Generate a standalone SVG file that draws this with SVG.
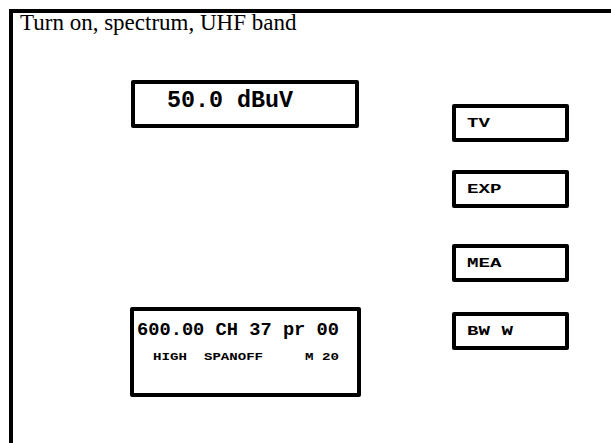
<svg xmlns="http://www.w3.org/2000/svg" width="611" height="443" viewBox="0 0 611 443">
<style>
.box{fill:#fff;stroke:#000;stroke-width:4;stroke-linejoin:round}
.mono{font-family:"Liberation Mono","Courier New",monospace;font-weight:bold;fill:#000}
.btn{font-size:13px}
</style>
<rect width="611" height="443" fill="#fff"/>
<g id="frame">
<rect x="11" y="11" width="700" height="500" fill="none" stroke="#000" stroke-width="4"/>
<text x="20" y="30" font-family="'Liberation Serif','Times New Roman',serif" font-size="23">Turn on, spectrum, UHF band</text>
</g>
<g id="level">
<rect class="box" x="133" y="82" width="224" height="44"/>
<text class="mono" x="167" y="107" font-size="23" textLength="126" lengthAdjust="spacingAndGlyphs">50.0 dBuV</text>
</g>
<g id="tv">
<rect class="box" x="454" y="106" width="113" height="34"/>
<text class="mono btn" x="467" y="127" textLength="23" lengthAdjust="spacingAndGlyphs">TV</text>
</g>
<g id="exp">
<rect class="box" x="454" y="172" width="113" height="34"/>
<text class="mono btn" x="467" y="193" textLength="34.5" lengthAdjust="spacingAndGlyphs">EXP</text>
</g>
<g id="mea">
<rect class="box" x="454" y="246" width="113" height="34"/>
<text class="mono btn" x="467" y="267" textLength="34.5" lengthAdjust="spacingAndGlyphs">MEA</text>
</g>
<g id="bww">
<rect class="box" x="454" y="314" width="113" height="34"/>
<text class="mono btn" x="467" y="335" textLength="46" lengthAdjust="spacingAndGlyphs">BW W</text>
</g>
<g id="display">
<rect class="box" x="132" y="309" width="227" height="86"/>
<text class="mono" x="137" y="335" font-size="19" textLength="202" lengthAdjust="spacingAndGlyphs">600.00 CH 37 pr 00</text>
<text class="mono" x="153" y="360" font-size="11" textLength="34" lengthAdjust="spacingAndGlyphs">HIGH</text>
<text class="mono" x="204" y="360" font-size="11" textLength="59" lengthAdjust="spacingAndGlyphs">SPANOFF</text>
<text class="mono" x="305" y="360" font-size="11" textLength="34" lengthAdjust="spacingAndGlyphs">M 20</text>
</g>
<g id="connectors"></g>
</svg>
